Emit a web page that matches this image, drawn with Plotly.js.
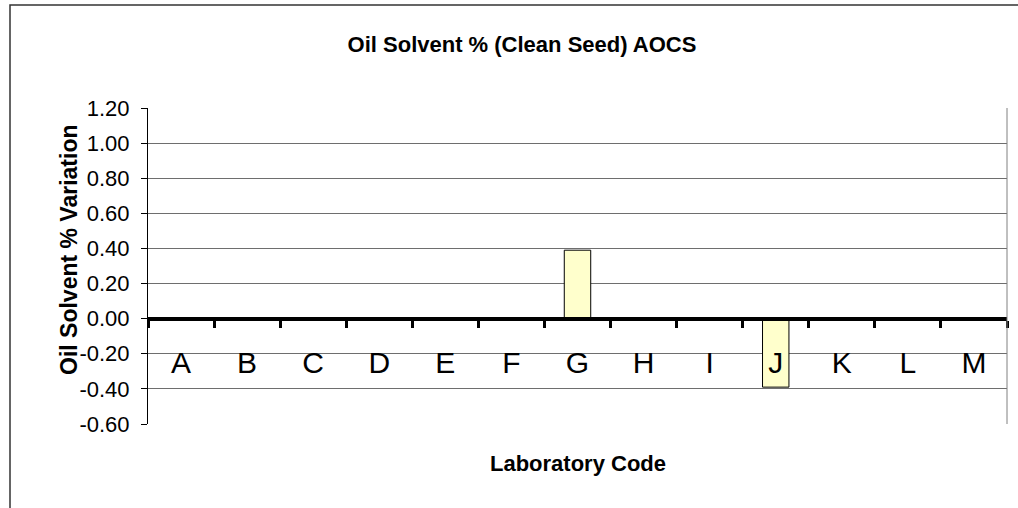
<!DOCTYPE html>
<html>
<head>
<meta charset="utf-8">
<script src="https://cdn.plot.ly/plotly-3.0.1.min.js"></script>
<style>html,body{margin:0;padding:0;background:#fff;}#chart{width:1018px;height:508px;}</style>
</head>
<body>
<div id="chart"></div>
<script>
const labs = ["A","B","C","D","E","F","G","H","I","J","K","L","M"];
const variation = [0, 0, 0, 0, 0, 0, 0.39, 0, 0, -0.39, 0, 0, 0];
const yTicks = [-0.6, -0.4, -0.2, 0, 0.2, 0.4, 0.6, 0.8, 1.0, 1.2];
const yTickText = ["-0.60","-0.40","-0.20","0.00","0.20","0.40","0.60","0.80","1.00","1.20"];
const chartTitle = "Oil Solvent % (Clean Seed) AOCS";
const xTitle = "Laboratory Code";
const yTitle = "Oil Solvent % Variation";

const yMin = -0.6, yMax = 1.2;
const font = "Arial, 'Liberation Sans', sans-serif";

const trace = {
  type: "bar",
  x: labs,
  y: variation,
  width: 0.4,
  marker: {color: "#FFFFCC", line: {color: "#000000", width: 1}},
  hoverinfo: "x+y"
};

const layout = {
  width: 1018, height: 508,
  margin: {l: 148, r: 11, t: 108, b: 84, pad: 0},
  paper_bgcolor: "#ffffff",
  plot_bgcolor: "#ffffff",
  showlegend: false,
  font: {family: font, color: "#000"},
  title: {
    text: chartTitle,
    font: {family: font, size: 22, color: "#000", weight: "bold"},
    x: 522/1018, xref: "container", xanchor: "center",
    y: 1 - 44/508, yref: "container", yanchor: "middle"
  },
  xaxis: {
    type: "category",
    anchor: "free",
    position: (0 - yMin) / (yMax - yMin),
    showline: true, linecolor: "#000", linewidth: 4,
    ticks: "outside", ticklen: 7, tickwidth: 3, tickcolor: "#000",
    tickson: "boundaries",
    showgrid: false, zeroline: false,
    tickfont: {family: font, size: 30, color: "#000"},
    ticklabelstandoff: 16,
    fixedrange: true
  },
  yaxis: {
    range: [yMin, yMax],
    tickvals: yTicks,
    ticktext: yTickText,
    showline: true, linecolor: "#000", linewidth: 1,
    ticks: "outside", ticklen: 6, tickwidth: 1, tickcolor: "#000",
    showgrid: true, gridcolor: "#6e6e6e", gridwidth: 1,
    zeroline: false,
    tickfont: {family: font, size: 22, color: "#000"},
    ticklabelstandoff: 7,
    fixedrange: true
  },
  shapes: [
    {type: "line", xref: "paper", yref: "paper", x0: 1, x1: 1, y0: 0, y1: 1,
     line: {color: "#808080", width: 1}},
    {type: "rect", xref: "paper", yref: "paper",
     x0: (10-148)/859, x1: 1.05, y0: -0.35, y1: (424-5)/316,
     line: {color: "#333", width: 1.5}, fillcolor: "rgba(0,0,0,0)", layer: "below"}
  ],
  annotations: [
    {text: xTitle, xref: "paper", yref: "paper", x: 0.5, y: (424-463)/316,
     xanchor: "center", yanchor: "middle", showarrow: false,
     font: {family: font, size: 22, color: "#000", weight: "bold"}},
    {text: yTitle, xref: "paper", yref: "paper", x: (69-148)/859, y: (424-250)/316,
     xanchor: "center", yanchor: "middle", showarrow: false, textangle: -90,
     font: {family: font, size: 23, color: "#000", weight: "bold"}}
  ]
};

Plotly.newPlot("chart", [trace], layout, {displayModeBar: false, staticPlot: true});
</script>
</body>
</html>
